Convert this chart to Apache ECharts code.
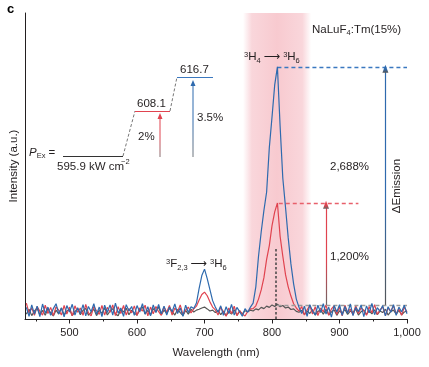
<!DOCTYPE html>
<html>
<head>
<meta charset="utf-8">
<script src="https://cdn.jsdelivr.net/npm/echarts@6/dist/echarts.min.js"></script>
<style>html,body{margin:0;padding:0;background:#fff}#c{width:429px;height:367px}</style>
</head>
<body>
<div id="c"></div>
<script>
// Sampling grid of the spectra (nm)
const wlStart = 436, wlStep = 4;
// Intensity (a.u., 0-100 scale of the axis height)
const blue = [
3.8,0.9,4.6,1.6,4.2,0.8,4.9,1.9,3.9,1.2,
3.4,5.0,1.7,3.6,0.7,4.4,2.3,4.8,1.3,3.7,
1.8,4.7,1.0,4.1,2.4,5.0,1.5,3.9,0.8,4.5,
2.1,4.6,1.3,5.2,1.9,3.6,0.9,4.7,2.6,4.1,
1.2,4.4,2.3,5.0,1.6,4.0,1.0,4.6,2.1,4.8,
1.7,4.2,1.3,3.9,2.4,4.9,1.8,3.6,0.9,4.5,
2.1,4.0,
3.4,5.2,10.0,14.2,16.3,13.2,9.6,6.0,3.9,
2.2,4.3,1.2,4.0,1.8,4.8,1.3,3.8,2.4,0.9,3.4,
2.2,3.9,5.2,10.5,20.5,28.5,35.5,41.5,56,66,76.5,82.4,63,46,36.5,26.5,18,11.5,6.5,3.8,
1.8,4.2,0.9,4.7,2.6,1.3,4.5,2.1,5.0,1.6,
3.9,0.6,4.4,2.3,4.7,1.2,4.1,1.9,4.9,1.1,
3.8,2.4,4.6,0.8,4.3,2.0,5.1,1.4,3.7,2.5,
4.4,1.0,4.0,2.2,4.7,1.2,3.9,2.3,4.5,1.7
];
const red = [
5.2,1.9,3.6,1.2,4.1,2.5,1.3,4.5,1.8,3.8,
1.1,4.0,2.9,1.3,4.4,1.6,3.9,1.0,4.3,2.2,
3.6,1.2,4.8,2.0,1.0,4.1,2.7,1.5,4.4,1.3,
3.8,2.2,4.6,1.1,4.0,1.8,4.4,1.3,3.4,2.0,
4.3,1.2,3.6,2.6,4.5,1.0,3.9,1.7,4.1,2.4,
1.2,4.0,2.2,4.4,1.3,3.6,2.4,4.6,1.5,2.9,
3.9,2.0,
3.3,4.2,6.2,8.0,8.8,7.6,5.6,3.9,3.0,
1.3,3.9,2.2,0.9,3.6,1.8,4.2,1.1,2.8,1.6,1.0,
2.5,3.3,3.4,4.3,6.5,9.5,13.5,19.5,24,30.5,35,37.9,27,20.5,14.5,10.5,7.5,5.0,3.6,2.6,
4.1,1.3,3.0,4.4,1.6,4.0,1.1,3.6,2.4,4.6,
1.2,3.3,4.3,1.5,3.9,1.0,4.5,2.2,3.2,1.3,
4.4,1.8,3.7,2.8,1.2,4.1,2.0,4.7,1.5,3.0,
4.0,1.1,3.6,2.6,4.3,1.7,3.3,1.2,3.9,2.2
];
const gray = [
1.6,3.2,1.1,2.6,3.5,1.4,2.8,1.2,3.4,2.0,
1.0,2.9,1.6,3.6,1.3,2.6,3.1,1.1,2.4,3.4,
1.4,2.8,3.5,1.2,2.2,3.3,1.1,2.9,1.8,3.7,
1.3,2.6,3.4,1.6,1.1,3.1,2.3,3.5,1.4,2.8,
2.0,1.2,3.2,3.9,1.6,2.8,1.3,3.4,2.3,4.0,
1.4,2.9,1.8,3.5,2.5,1.3,3.1,2.1,1.1,2.8,
1.6,3.2,
2.3,2.9,3.2,3.6,3.9,3.3,2.6,2.9,2.1,
2.8,1.4,2.6,1.1,2.4,1.6,3.0,1.2,2.5,1.7,2.7,
2.4,2.9,2.6,3.3,3.0,3.8,3.4,4.2,3.8,4.6,4.1,4.8,4.0,4.4,3.6,3.9,3.1,3.3,2.5,2.2,
2.8,1.5,2.6,1.8,3.1,1.3,2.5,2.9,1.6,3.2,
1.4,2.3,3.0,1.2,2.7,1.9,3.1,1.5,2.6,2.1,
3.3,1.3,2.4,2.9,1.5,2.7,1.7,3.0,1.4,2.6,
2.1,3.2,1.3,2.5,2.9,1.6,2.8,1.4,2.3,2.6
];
const xTicks = [500, 600, 700, 800, 900, 1000];
const xMinorTicks = [450, 550, 650, 750, 850, 950];
const xTickLabels = ['500', '600', '700', '800', '900', '1,000'];
// Annotation levels
const peakWl = 808;          // 3H4 -> 3H6 peak position
const baseLevel = 4.6;       // low-power emission level (grey dashed)
const redArrowWl = 880, blueArrowWl = 968, redDashEnd = 928;
const bandRange = [757, 858];

const toPairs = arr => arr.map((v, i) => [wlStart + i * wlStep, v]);
const bluePeak = Math.max(...blue), redPeak = Math.max(...red);

const FONT = '"Liberation Sans", Arial, Helvetica, sans-serif';
const C_BLUE = '#2e6aae', C_RED = '#e0434f', C_GRAY = '#555555', TXT = '#231f20';

const chart = echarts.init(document.getElementById('c'), null, {renderer: 'canvas'});

function grad(top, bottom) {
  return {type: 'linear', x: 0, y: 0, x2: 0, y2: 1, colorStops: [
    {offset: 0, color: top}, {offset: 0.55, color: top}, {offset: 1, color: bottom}]};
}
function txt(text, x, y, opts) {
  return Object.assign({type: 'text', x: x, y: y, silent: true, z: 50,
    style: Object.assign({text: text, font: '11.5px ' + FONT, fill: TXT, align: 'left', verticalAlign: 'middle'}, opts || {})});
}
function seg(x1, y1, x2, y2, stroke, w, dash) {
  return {type: 'line', silent: true, z: 40, shape: {x1, y1, x2, y2},
    style: {stroke: stroke, lineWidth: w || 1, lineDash: dash || null}};
}
function arrowUp(x, y0, y1, color) {
  return [
    {type: 'line', silent: true, z: 40, shape: {x1: x, y1: y0, x2: x, y2: y1 + 4},
      style: {stroke: {type: 'linear', x: 0, y: 0, x2: 0, y2: 1, global: false, colorStops: [
        {offset: 0, color: color}, {offset: 0.5, color: color}, {offset: 1, color: '#777'}]}, lineWidth: 1}},
    {type: 'polygon', silent: true, z: 41, shape: {points: [[x - 2.5, y1 + 6], [x + 2.5, y1 + 6], [x, y1]]},
      style: {fill: color}}
  ];
}

const supSub = {
  red: {fontSize: 11.5, fontFamily: FONT, color: C_RED},
  sup: {fontSize: 7.5, fontFamily: FONT, color: TXT, verticalAlign: 'top', lineHeight: 15, padding: [1, 0, 0, 0]},
  sub: {fontSize: 7.5, fontFamily: FONT, color: TXT, verticalAlign: 'bottom', lineHeight: 14},
  ar: {fontSize: 11.5, fontFamily: '"DejaVu Sans", sans-serif', color: TXT, padding: [0, 3, 0, 3]},
  it: {fontSize: 11.5, fontFamily: FONT, fontStyle: 'italic', color: TXT}
};
function rich(text, x, y) {
  return {type: 'text', x: x, y: y, silent: true, z: 50,
    style: {text: text, rich: supSub, align: 'left', verticalAlign: 'middle', fill: TXT, font: '11.5px ' + FONT}};
}

const graphics = [
  {type: 'text', left: 7, top: 3, silent: true, style: {text: 'c', font: 'bold 13px ' + FONT, fill: '#000'}},
  rich('Na{red|Lu}F{sub|4}:Tm(15%)', 312, 30),
  rich('{sup|3}H{sub|4}{ar|⟶}{sup|3}H{sub|6}', 244, 57),
  rich('{sup|3}F{sub|2,3}{ar|⟶}{sup|3}H{sub|6}', 166, 264),
  txt('2,688%', 330, 167),
  txt('1,200%', 330, 257),
  {type: 'text', x: 397, y: 186, rotation: Math.PI / 2, silent: true, z: 50,
    style: {text: 'ΔEmission', font: '11.5px ' + FONT, fill: TXT, align: 'center', verticalAlign: 'middle'}},
  // inset: excitation power levels
  rich('{it|P}{sub|Ex} =', 29, 153),
  txt('595.9 kW cm', 57, 167),
  txt('−2', 121, 162, {font: '7.5px ' + FONT}),
  seg(63, 156.5, 123, 156.5, '#333', 1),
  seg(123, 156, 135, 111, '#777', 1, [3, 2]),
  seg(135, 111.5, 170, 111.5, C_RED, 1.2),
  seg(170, 111, 177, 77, '#777', 1, [3, 2]),
  seg(177, 77.5, 213, 77.5, '#3b78bf', 1.2),
  txt('608.1', 137, 104),
  txt('616.7', 180, 70),
  txt('2%', 138, 137),
  txt('3.5%', 197, 118)
].concat(arrowUp(160, 157, 113, C_RED), arrowUp(193, 157, 80, C_BLUE));

const noLabel = {show: false};
const option = {
  animation: false,
  backgroundColor: '#fff',
  grid: {left: 22, right: 22, top: 13, bottom: 48, containLabel: false},
  xAxis: [{
    type: 'value', min: 434, max: 1000, position: 'bottom',
    axisLine: {show: true, onZero: false, lineStyle: {color: '#231f20', width: 1}},
    axisTick: {show: true, customValues: xTicks, length: 4.5, lineStyle: {color: '#231f20'}},
    axisLabel: {show: true, customValues: xTicks, margin: 8, fontSize: 11, fontFamily: FONT, color: TXT,
      formatter: v => xTickLabels[xTicks.indexOf(v)]},
    splitLine: {show: false},
    name: 'Wavelength (nm)', nameLocation: 'middle', nameGap: 28,
    nameTextStyle: {fontSize: 11.5, fontFamily: FONT, color: TXT}
  }, {
    type: 'value', min: 434, max: 1000, position: 'bottom', gridIndex: 0,
    axisLine: {show: false},
    axisTick: {show: true, customValues: xMinorTicks, length: 2.5, lineStyle: {color: '#231f20'}},
    axisLabel: {show: false}, splitLine: {show: false}
  }],
  yAxis: {
    type: 'value', min: 0, max: 100,
    axisLine: {show: true, onZero: false, lineStyle: {color: '#231f20', width: 1}},
    axisTick: {show: false}, axisLabel: {show: false}, splitLine: {show: false},
    name: 'Intensity (a.u.)', nameLocation: 'middle', nameGap: 5,
    nameTextStyle: {fontSize: 11.5, fontFamily: FONT, color: TXT}
  },
  graphic: graphics,
  series: [
    {type: 'line', data: [], silent: true,
      markArea: {silent: true, data: [[{xAxis: bandRange[0]}, {xAxis: bandRange[1]}]],
        itemStyle: {color: {type: 'linear', x: 0, y: 0, x2: 1, y2: 0, colorStops: [
          {offset: 0, color: 'rgba(236,120,136,0)'},
          {offset: 0.13, color: 'rgba(236,120,136,0.30)'},
          {offset: 0.5, color: 'rgba(236,115,130,0.38)'},
          {offset: 0.87, color: 'rgba(236,120,136,0.30)'},
          {offset: 1, color: 'rgba(236,120,136,0)'}]}}}},
    {name: 'low', type: 'line', data: toPairs(gray), symbol: 'none', silent: true, z: 3,
      lineStyle: {color: C_GRAY, width: 1.2},
      markLine: {silent: true, symbol: 'none', label: noLabel, animation: false,
        data: [
          [{coord: [peakWl, baseLevel], lineStyle: {color: '#9a9a9a', type: [4, 3], width: 1.4}}, {coord: [1000, baseLevel]}],
          [{coord: [806, 0], lineStyle: {color: '#444', type: [2.5, 2], width: 1.5}}, {coord: [806, 23.3]}]
        ]}},
    {name: 'mid', type: 'line', data: toPairs(red), symbol: 'none', silent: true, z: 4,
      lineStyle: {color: C_RED, width: 1.2},
      markLine: {silent: true, label: noLabel, animation: false,
        data: [
          [{coord: [peakWl + 2, redPeak], symbol: 'none', lineStyle: {color: '#e8606b', type: [4, 3], width: 1.3}}, {coord: [redDashEnd, redPeak], symbol: 'none'}],
          [{coord: [redArrowWl, baseLevel], symbol: 'none', lineStyle: {color: grad(C_RED, '#666'), type: 'solid', width: 1.2}},
           {coord: [redArrowWl, redPeak - 0.6], symbol: 'triangle', symbolSize: [6, 8], itemStyle: {color: C_RED}}]
        ]}},
    {name: 'high', type: 'line', data: toPairs(blue), symbol: 'none', silent: true, z: 5,
      lineStyle: {color: C_BLUE, width: 1.2},
      markLine: {silent: true, label: noLabel, animation: false,
        data: [
          [{coord: [peakWl, bluePeak], symbol: 'none', lineStyle: {color: '#3a78c0', type: [4, 3], width: 1.3}}, {coord: [1000, bluePeak], symbol: 'none'}],
          [{coord: [blueArrowWl, baseLevel], symbol: 'none', lineStyle: {color: grad(C_BLUE, '#555'), type: 'solid', width: 1.2}},
           {coord: [blueArrowWl, bluePeak - 0.6], symbol: 'triangle', symbolSize: [6, 8], itemStyle: {color: C_BLUE}}]
        ]}}
  ]
};
chart.setOption(option);
</script>
</body>
</html>
